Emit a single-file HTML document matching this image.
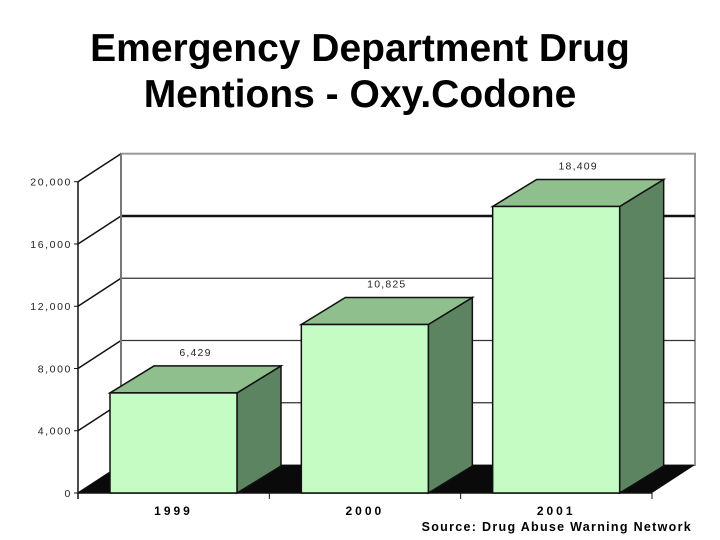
<!DOCTYPE html>
<html><head><meta charset="utf-8"><style>
body{margin:0;background:#fff;width:720px;height:540px;overflow:hidden}
svg{display:block}
text{font-family:"Liberation Sans",sans-serif}
</style></head><body>
<svg id="c" width="720" height="540">
<text x="360" y="61" text-anchor="middle" font-size="39" font-weight="bold">Emergency Department Drug</text>
<text x="360" y="107" text-anchor="middle" font-size="39" font-weight="bold">Mentions - Oxy.Codone</text>
<text x="692" y="531" text-anchor="end" font-size="12.5" font-weight="bold" letter-spacing="1.3">Source: Drug Abuse Warning Network</text>
</svg>
<script>
const categories=["1999","2000","2001"];
const values=[6429,10825,18409];
const valueLabels=["6,429","10,825","18,409"];
const yTicks=[0,4000,8000,12000,16000,20000];
const yTickLabels=["0","4,000","8,000","12,000","16,000","20,000"];
const NS="http://www.w3.org/2000/svg",svg=document.getElementById("c");
const X0=78,X1=652,Y0=493,DX=43,DY=-28,K=(493-181.7)/20000;
const y=v=>Y0-v*K;
const slotW=(X1-X0)/categories.length;
function el(t,a,p){const e=document.createElementNS(NS,t);for(const k in a)e.setAttribute(k,a[k]);(p||svg).appendChild(e);return e;}
const wall=el("rect",{x:X0+DX,y:y(20000)+DY,width:X1-X0,height:20000*K,fill:"#fff",stroke:"#999","stroke-width":2});


yTicks.forEach((t,i)=>{
  if(t>0&&t<20000){const g=el("line",{x1:X0+DX,x2:X1+DX,y1:y(t)+DY,y2:y(t)+DY,stroke:i==4?"#111":"#333","stroke-width":i==4?2.5:1.3});
  
  }
  const d=el("line",{x1:X0,y1:y(t),x2:X0+DX,y2:y(t)+DY,stroke:"#111","stroke-width":1.5});
  
  
  const tk=el("line",{x1:X0-4,x2:X0,y1:y(t),y2:y(t),stroke:"#111"});
  
  
  const tx=el("text",{x:X0-6,y:y(t)+4,"text-anchor":"end","font-size":10.5,"letter-spacing":"1.6",fill:"#222"});
  tx.textContent=yTickLabels[i];
  
  
});
const lw=el("line",{x1:X0+DX,x2:X0+DX,y1:y(20000)+DY,y2:Y0+DY,stroke:"#777","stroke-width":2});


const fl=el("polygon",{points:`${X0},${Y0} ${X1},${Y0} ${X1+DX},${Y0+DY} ${X0+DX},${Y0+DY}`,fill:"#0a0a0a"});


const ax=el("line",{x1:X0,x2:X0,y1:y(20000),y2:Y0+6,stroke:"#111","stroke-width":1.5});


const bx=el("line",{x1:X0,x2:X1,y1:Y0,y2:Y0,stroke:"#111","stroke-width":1.5});


for(let i=0;i<=categories.length;i++){const t=el("line",{x1:X0+i*slotW,x2:X0+i*slotW,y1:Y0,y2:Y0+6,stroke:"#111"});

}
const bw=127,bdx=44,bdy=-27;
categories.forEach((c,i)=>{
  const fx=X0+slotW*i+32,top=y(values[i]);
  const g=el("g",{});
  
  
  el("polygon",{points:`${fx+bw},${Y0} ${fx+bw},${top} ${fx+bw+bdx},${top+bdy} ${fx+bw+bdx},${Y0+bdy}`,fill:"#5d8460",stroke:"#111","stroke-width":1.5},g);
  el("polygon",{points:`${fx},${top} ${fx+bw},${top} ${fx+bw+bdx},${top+bdy} ${fx+bdx},${top+bdy}`,fill:"#8fbf8c",stroke:"#111","stroke-width":1.5},g);
  el("rect",{x:fx,y:top,width:bw,height:Y0-top,fill:"#c4fcc4",stroke:"#111","stroke-width":1.5},g);
  const vl=el("text",{x:fx+bw/2+bdx/2,y:top+bdy-10,"text-anchor":"middle","font-size":10.5,"letter-spacing":"1.2",fill:"#222"});
  vl.textContent=valueLabels[i];
  
  
  const cl=el("text",{x:fx+bw/2,y:Y0+22,"text-anchor":"middle","font-size":12,"font-weight":"bold","letter-spacing":"3"});
  cl.textContent=c;
  
  
});
</script>
</body></html>
